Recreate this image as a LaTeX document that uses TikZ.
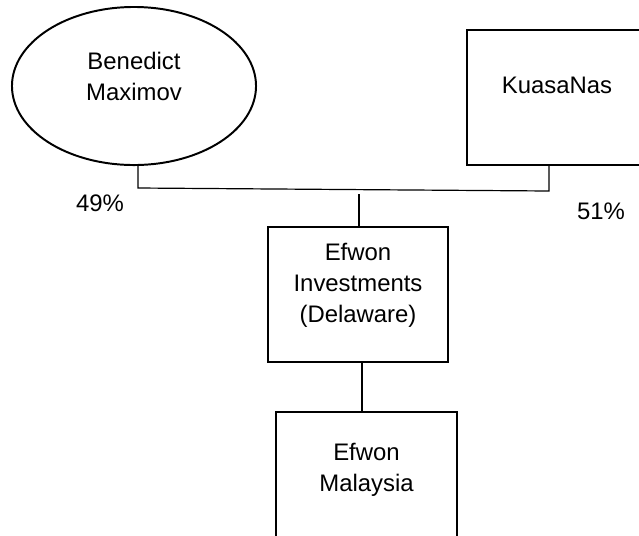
\documentclass[tikz,border=0pt]{standalone}
\usepackage{fontspec}
\setmainfont{Liberation Sans}
\usetikzlibrary{positioning, shapes.geometric}

\begin{document}
\begin{tikzpicture}[x=0.025cm, y=-0.025cm,
  font=\fontsize{17}{22}\selectfont,
  entity/.style={draw, line width=1.4pt, minimum width=4.5cm, minimum height=3.375cm, align=center, text depth=0.6cm},
  link/.style={line width=0.85pt}]
\useasboundingbox (0,0) rectangle (639,535);
\clip (0,0) rectangle (639,535);

\node[draw, ellipse, line width=1.4pt, minimum width=6.1cm, minimum height=3.95cm, align=center, text depth=0.5cm] (benedict) at (134,86) {Benedict\\Maximov};
\node[entity] (kuasa) at (557,97.5) {KuasaNas};
\node[entity] (invest) at (358,294.5) {Efwon\\Investments\\(Delaware)};
\node[entity, below=1.2cm of invest, xshift=0.2125cm] (malaysia) {Efwon\\Malaysia};

\node (share49) at (100,203) {49\%};
\node (share51) at (601,211) {51\%};

\coordinate (jl) at (138,188);
\coordinate (jr) at (549,191);
\coordinate (jm) at (359,194);

\draw[link] (jl |- benedict.south) -- (jl) -- (jr) -- (jr |- kuasa.south);
\draw[link] (jm) -- (jm |- invest.north);
\draw[link] ([xshift=0.1cm]invest.south) -- ([xshift=0.1cm]invest.south |- malaysia.north);
\end{tikzpicture}
\end{document}
